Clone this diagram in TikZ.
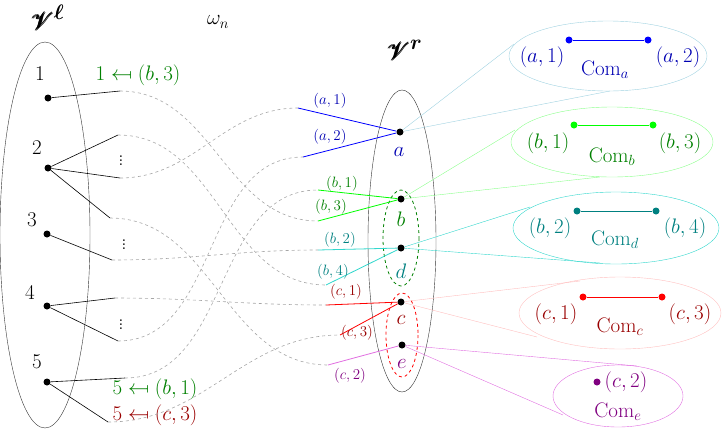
\RequirePackage{fix-cm}
\documentclass[tikz,border=0pt]{standalone}
\usepackage{amsmath}
\usepackage{amssymb}
\usepackage{mathrsfs}
\usepackage{stmaryrd}
\usepackage{tikz}
\usetikzlibrary{positioning, calc, arrows}
\usepackage{xcolor}
\colorlet{acol}{blue!70!black}
\colorlet{bcol}{green!50!black}
\colorlet{dcol}{teal}
\colorlet{ccol}{red!60!black}
\colorlet{ecol}{violet}
\definecolor{lblue}{RGB}{160,210,225}
\definecolor{turq}{RGB}{50,215,205}
\definecolor{lmag}{RGB}{225,110,225}
\tikzset{
  dot/.style={circle, fill, inner sep=0pt, minimum size=7pt},
  big/.style={font=\fontsize{21}{24}\selectfont},
  small/.style={font=\fontsize{15}{17}\selectfont},
  wire/.style={dashed, gray!70, semithick},
}
\begin{document}
\begin{tikzpicture}[x=1pt, y=-1pt, big]
        \useasboundingbox (0,0) rectangle (723,429);
        % sets
        \draw[black!80] (45,235) ellipse [x radius=45, y radius=193];
        \draw[black!80] (402,241) ellipse [x radius=34, y radius=151];
        \node[font=\fontsize{30}{32}\selectfont] (Vl) at (48,18) {$\pmb{\mathscr{V}}^{\boldsymbol{\ell}}$};
        \node[font=\fontsize{30}{32}\selectfont] (Vr) at (405,50) {$\pmb{\mathscr{V}}^{\boldsymbol{r}}$};
        \node (omega) at (218,22) {$\omega_n$};
        % left nodes
        \node[dot] (l1) at (48,98) {};  \node (t1) at (40,74) {1};
        \node[dot] (l2) at (48,168) {}; \node (t2) at (37,148) {2};
        \node[dot] (l3) at (47,234) {}; \node (t3) at (32,220) {3};
        \node[dot] (l4) at (47,306) {}; \node (t4) at (30,292) {4};
        \node[dot] (l5) at (47,382) {}; \node (t5) at (37,362) {5};
        % free ends on the left
        \coordinate (e1)  at (120,91);
        \coordinate (e2a) at (118,135);
        \coordinate (e2b) at (120,178);
        \coordinate (e2c) at (110,218);
        \coordinate (e3)  at (112,260);
        \coordinate (e4a) at (115,298);
        \coordinate (e4b) at (118,341);
        \coordinate (e5a) at (125,378);
        \coordinate (e5b) at (108,422);
        \foreach \s/\t in {l1/e1, l2/e2a, l2/e2b, l2/e2c, l3/e3, l4/e4a, l4/e4b, l5/e5a, l5/e5b}
          \draw[semithick] (\s) -- (\t);
        \node (v1) at (121,158) {$\vdots$};
        \node (v2) at (124,242) {$\vdots$};
        \node (v3) at (121,322) {$\vdots$};
        \node[bcol] (m1) at (138,75) {$1 \mapsfrom (b,3)$};
        \node[bcol] (m2) at (155,389) {$5 \mapsfrom (b,1)$};
        \node[ccol] (m3) at (155,415) {$5 \mapsfrom (c,3)$};
        % right nodes
        \node[dot] (a) at (400,132) {}; \node[acol] (ta) at (399,152) {$a$};
        \node[dot] (b) at (401,199) {}; \node[bcol] (tb) at (401,219) {$b$};
        \node[dot] (d) at (401,248) {}; \node[dcol] (td) at (401,271) {$d$};
        \node[dot] (c) at (401,302) {}; \node[ccol] (tc) at (401,320) {$c$};
        \node[dot] (e) at (402,345) {}; \node[ecol] (te) at (402,364) {$e$};
        \draw[bcol, dashed, thick] (401,238) ellipse [x radius=18, y radius=48];
        \draw[red, dashed, thick] (402,335) ellipse [x radius=16, y radius=42];
        % free ends on the right
        \coordinate (a1) at (298,108);
        \coordinate (a2) at (303,157);
        \coordinate (b1) at (318,190);
        \coordinate (b3) at (318,221);
        \coordinate (b2) at (318,250);
        \coordinate (b4) at (326,285);
        \coordinate (c1) at (326,305);
        \coordinate (c3) at (340,335);
        \coordinate (c2) at (328,365);
        \draw[blue, thick] (a1) -- (a) (a2) -- (a);
        \draw[green, thick] (b1) -- (b) (b3) -- (b);
        \draw[turq, thick] (b2) -- (d) (b4) -- (d);
        \draw[red, thick] (c1) -- (c) (c3) -- (c);
        \draw[lmag, thick] (c2) -- (e);
        \node[small, acol] (la1) at (330,101) {$(a,1)$};
        \node[small, acol] (la2) at (330,137) {$(a,2)$};
        \node[small, bcol] (lb1) at (342,184) {$(b,1)$};
        \node[small, bcol] (lb3) at (331,207) {$(b,3)$};
        \node[small, dcol] (lb2) at (340,240) {$(b,2)$};
        \node[small, dcol] (lb4) at (333,272) {$(b,4)$};
        \node[small, ccol] (lc1) at (346,292) {$(c,1)$};
        \node[small, ccol] (lc3) at (357,333) {$(c,3)$};
        \node[small, ecol] (lc2) at (350,376) {$(c,2)$};
        % omega
        \foreach \s/\t in {e1/b3, e2a/b4, e2b/a1, e2c/c2, e3/b2, e4a/c1, e4b/a2, e5a/b1, e5b/c3}
          \draw[wire] (\s) to[out=0, in=180] (\t);
        % components
        \draw[lblue] (608,56) ellipse [x radius=99, y radius=35];
        \draw[green!45] (612,142) ellipse [x radius=101, y radius=35];
        \draw[turq] (616,228) ellipse [x radius=103, y radius=36];
        \draw[pink] (620,313) ellipse [x radius=101, y radius=36];
        \draw[lmag] (618,396) ellipse [x radius=65, y radius=31];
        \draw[lblue] (a) -- (514,44) (a) -- (610,91);
        \draw[green!45] (b) -- (515,130) (b) -- (600,177);
        \draw[turq] (d) -- (530,207) (d) -- (600,263);
        \draw[pink] (c) -- (580,281) (c) -- (537,337);
        \draw[lmag] (e) -- (637,366) (e) -- (563,415);
        \node[dot, blue] (ca1) at (569,40) {};
        \node[dot, blue] (ca2) at (648,40) {};
        \draw[blue, thick] (ca1) -- (ca2);
        \node[acol] at (542,57) {$(a,1)$};
        \node[acol] at (678,57) {$(a,2)$};
        \node[acol] at (605,70) {$\mathrm{Com}_a$};
        \node[dot, green] (cb1) at (574,125) {};
        \node[dot, green] (cb3) at (653,125) {};
        \draw[green, thick] (cb1) -- (cb3);
        \node[bcol] at (548,143) {$(b,1)$};
        \node[bcol] at (680,143) {$(b,3)$};
        \node[bcol] at (612,157) {$\mathrm{Com}_b$};
        \node[dot, teal] (cd2) at (577,211) {};
        \node[dot, teal] (cd4) at (656,211) {};
        \draw[teal, thick] (cd2) -- (cd4);
        \node[dcol] at (550,228) {$(b,2)$};
        \node[dcol] at (685,228) {$(b,4)$};
        \node[dcol] at (615,240) {$\mathrm{Com}_d$};
        \node[dot, red] (cc1) at (583,297) {};
        \node[dot, red] (cc3) at (662,297) {};
        \draw[red, thick] (cc1) -- (cc3);
        \node[ccol] at (556,314) {$(c,1)$};
        \node[ccol] at (690,314) {$(c,3)$};
        \node[ccol] at (620,327) {$\mathrm{Com}_c$};
        \node[dot, violet] (ce2) at (597,382) {};
        \node[ecol] at (626,382) {$(c,2)$};
        \node[ecol] at (618,412) {$\mathrm{Com}_e$};
        \end{tikzpicture}
\end{document}
